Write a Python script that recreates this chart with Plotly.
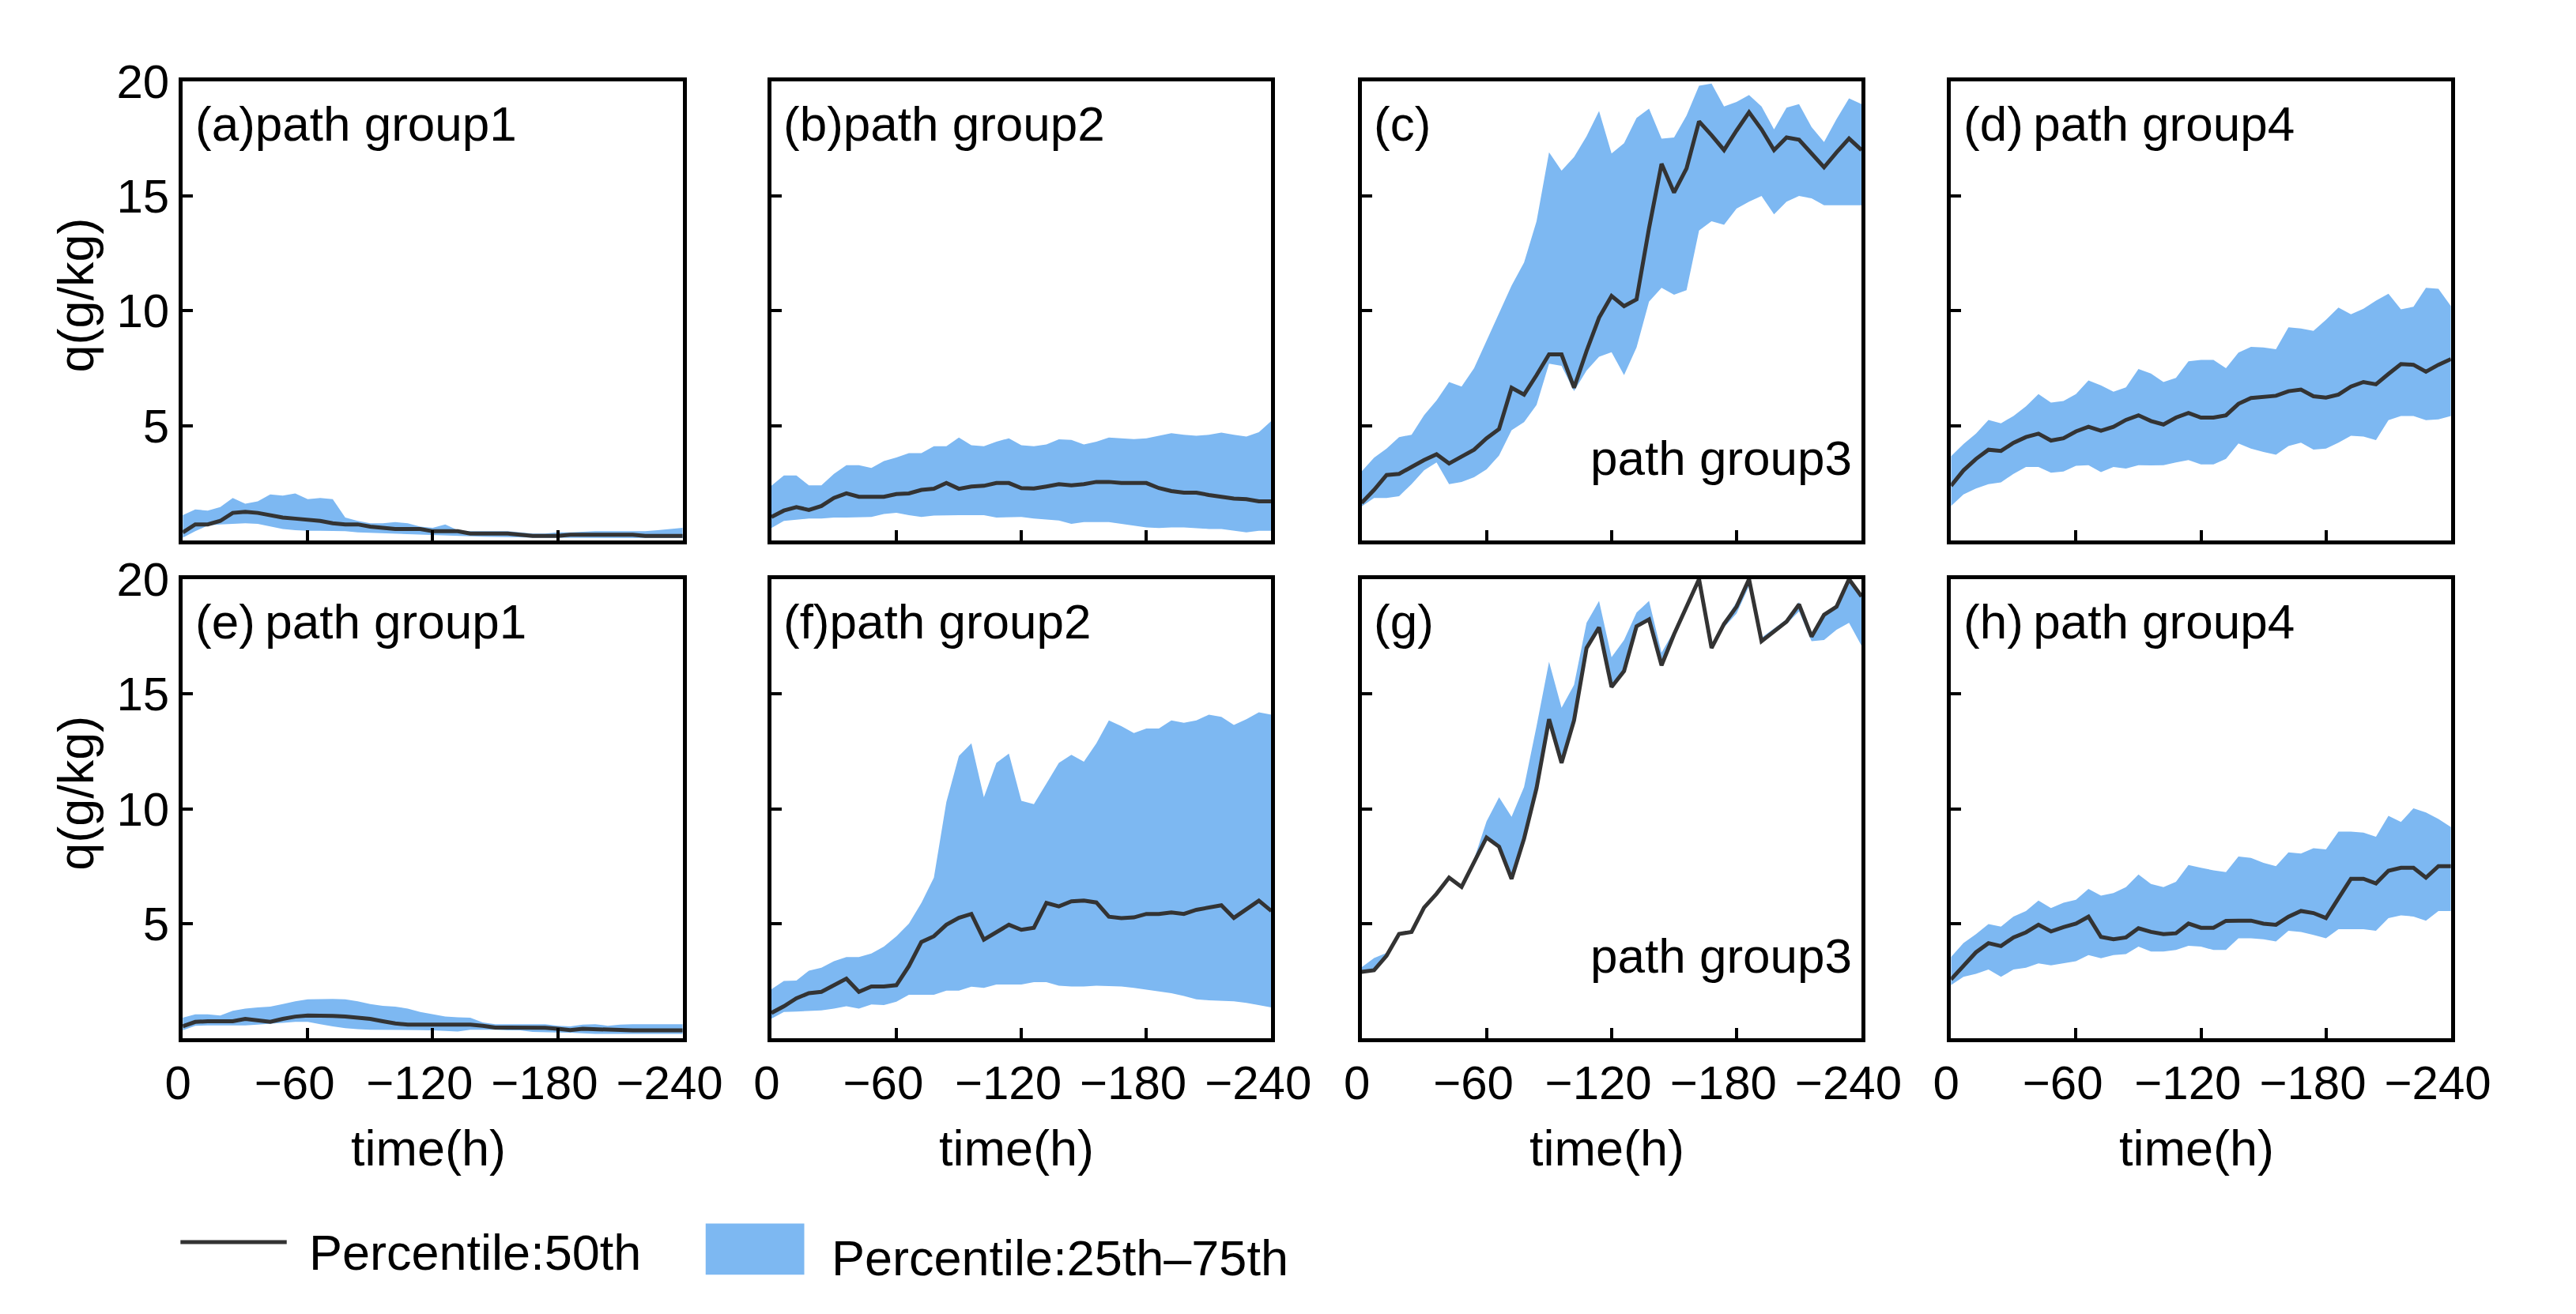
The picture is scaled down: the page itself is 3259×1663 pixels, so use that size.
import plotly.graph_objects as go

W, H = 3259, 1663
BLUE = "#7db8f2"
LINE = "#333333"
FONT = "Arial, Liberation Sans, sans-serif"

time_h = [0, -6, -12, -18, -24, -30, -36, -42, -48, -54, -60, -66, -72, -78, -84, -90, -96, -102, -108,
          -114, -120, -126, -132, -138, -144, -150, -156, -162, -168, -174, -180, -186, -192, -198, -204,
          -210, -216, -222, -228, -234, -240]
x_tickvals = [0, -60, -120, -180, -240]
x_ticktext = ["0\u2009", "\u221260\u2007", "\u2212120\u2007", "\u2212180\u2007", "\u2212240\u2007"]
y_tickvals = [5, 10, 15, 20]

# (a) path group1
a_p50 = [0.35, 0.7, 0.7, 0.85, 1.2, 1.25, 1.2, 1.1, 1.0, 0.95, 0.9, 0.85, 0.75, 0.7, 0.7, 0.6, 0.55, 0.5, 0.5, 0.5,
         0.4, 0.4, 0.4, 0.3, 0.3, 0.3, 0.3, 0.25, 0.2, 0.2, 0.2, 0.25, 0.25, 0.25, 0.25, 0.25, 0.25, 0.2, 0.2, 0.2, 0.2]
a_p75 = [1.1, 1.35, 1.3, 1.45, 1.85, 1.6, 1.7, 2.0, 1.95, 2.05, 1.8, 1.85, 1.8, 1.0, 0.85, 0.75, 0.75, 0.8, 0.75, 0.6,
         0.55, 0.7, 0.45, 0.4, 0.4, 0.4, 0.4, 0.35, 0.3, 0.3, 0.35, 0.35, 0.38, 0.4, 0.4, 0.4, 0.4, 0.4, 0.45, 0.5, 0.55]
a_p25 = [0.12, 0.4, 0.65, 0.7, 0.72, 0.75, 0.72, 0.6, 0.5, 0.45, 0.42, 0.42, 0.42, 0.4, 0.35, 0.33, 0.3, 0.28, 0.27,
         0.25, 0.22, 0.2, 0.2, 0.18, 0.16, 0.15, 0.15, 0.14, 0.12, 0.12, 0.12, 0.11, 0.1, 0.1, 0.1, 0.1, 0.1, 0.1, 0.1,
         0.1, 0.1]

# (b) path group2
b_p50 = [1.02, 1.3, 1.45, 1.33, 1.5, 1.85, 2.05, 1.9, 1.9, 1.9, 2.02, 2.05, 2.2, 2.25, 2.5, 2.25, 2.35, 2.38, 2.5,
         2.5, 2.28, 2.26, 2.35, 2.45, 2.4, 2.45, 2.55, 2.55, 2.5, 2.5, 2.5, 2.28, 2.15, 2.08, 2.08, 1.98, 1.9, 1.82,
         1.8, 1.7, 1.7]
b_p75 = [2.38, 2.83, 2.83, 2.4, 2.4, 2.9, 3.28, 3.28, 3.16, 3.46, 3.61, 3.8, 3.8, 4.1, 4.1, 4.48, 4.15, 4.1, 4.3,
         4.45, 4.15, 4.1, 4.18, 4.4, 4.38, 4.18, 4.3, 4.48, 4.45, 4.41, 4.45, 4.56, 4.67, 4.6, 4.56, 4.6, 4.7, 4.6,
         4.52, 4.71, 5.2]
b_p25 = [0.54, 0.85, 0.9, 0.95, 0.95, 1.0, 1.0, 1.0, 1.02, 1.15, 1.2, 1.1, 1.02, 1.08, 1.1, 1.1, 1.1, 1.1, 1.0, 1.0,
         1.02, 0.95, 0.9, 0.87, 0.72, 0.8, 0.8, 0.8, 0.72, 0.65, 0.57, 0.54, 0.57, 0.57, 0.54, 0.5, 0.5, 0.42, 0.35,
         0.42, 0.42]

# (c) path group3
c_p50 = [1.63, 2.2, 2.85, 2.9, 3.2, 3.5, 3.75, 3.35, 3.65, 3.95, 4.45, 4.85, 6.65, 6.35, 7.2, 8.1, 8.1, 6.65, 8.25,
         9.7, 10.65, 10.2, 10.5, 13.6, 16.4, 15.15, 16.2, 18.25, 17.65, 17.0, 17.85, 18.65, 17.9, 17.0, 17.55, 17.45,
         16.85, 16.25, 16.9, 17.5, 17.0]
c_p75 = [3.0, 3.6, 4.0, 4.5, 4.6, 5.45, 6.1, 6.9, 6.7, 7.5, 8.7, 9.9, 11.1, 12.1, 13.9, 16.9, 16.1, 16.7, 17.6, 18.7,
         16.85, 17.3, 18.4, 18.8, 17.5, 17.55, 18.5, 19.8, 19.9, 18.9, 19.1, 19.4, 18.9, 17.9, 18.85, 19.0, 18.0,
         17.35, 18.35, 19.25, 19.0]
c_p25 = [1.48, 1.85, 1.85, 1.93, 2.45, 3.05, 3.4, 2.45, 2.55, 2.75, 3.1, 3.7, 4.8, 5.15, 5.9, 7.7, 7.6, 6.5, 7.4, 8.0,
         8.2, 7.2, 8.4, 10.4, 11.0, 10.7, 10.9, 13.5, 13.9, 13.75, 14.45, 14.75, 15.0, 14.2, 14.75, 15.0, 14.9, 14.6,
         14.6, 14.6, 14.6]

# (d) path group4
d_p50 = [2.38, 3.05, 3.55, 3.95, 3.9, 4.25, 4.5, 4.65, 4.35, 4.45, 4.75, 4.95, 4.78, 4.95, 5.25, 5.45, 5.2, 5.05,
         5.35, 5.55, 5.35, 5.35, 5.45, 5.95, 6.2, 6.27, 6.3, 6.5, 6.57, 6.28, 6.22, 6.35, 6.7, 6.9, 6.8, 7.25, 7.68,
         7.65, 7.35, 7.65, 7.9]
d_p75 = [3.66, 4.2, 4.65, 5.25, 5.1, 5.42, 5.84, 6.37, 6.0, 6.07, 6.37, 6.97, 6.75, 6.48, 6.67, 7.47, 7.27, 6.9,
         7.08, 7.8, 7.86, 7.86, 7.5, 8.18, 8.43, 8.4, 8.33, 9.28, 9.23, 9.13, 9.61, 10.14, 9.85, 10.09, 10.44, 10.74,
         10.06, 10.18, 11.0, 10.96, 10.2]
d_p25 = [1.5, 2.0, 2.26, 2.45, 2.53, 2.9, 3.2, 3.2, 2.95, 3.0, 3.25, 3.28, 2.98, 3.2, 3.13, 3.28, 3.27, 3.28, 3.4,
         3.5, 3.31, 3.31, 3.55, 4.22, 4.0, 3.85, 3.73, 4.11, 4.26, 3.96, 4.0, 4.26, 4.56, 4.52, 4.37, 5.24, 5.42,
         5.42, 5.24, 5.27, 5.42]

# (e) path group1
e_p50 = [0.53, 0.72, 0.75, 0.75, 0.75, 0.85, 0.8, 0.72, 0.85, 0.95, 1.0, 1.0, 0.98, 0.95, 0.9, 0.85, 0.75, 0.65, 0.6,
         0.6, 0.6, 0.6, 0.6, 0.6, 0.55, 0.47, 0.47, 0.47, 0.47, 0.46, 0.42, 0.36, 0.42, 0.4, 0.36, 0.35, 0.35, 0.35,
         0.35, 0.35, 0.35]
e_p75 = [0.9, 1.05, 1.05, 1.0, 1.2, 1.3, 1.35, 1.38, 1.5, 1.62, 1.7, 1.72, 1.72, 1.7, 1.62, 1.5, 1.42, 1.38, 1.3,
         1.15, 1.05, 0.95, 0.92, 0.9, 0.7, 0.62, 0.62, 0.62, 0.62, 0.62, 0.55, 0.52, 0.6, 0.62, 0.55, 0.6, 0.62, 0.62,
         0.62, 0.62, 0.62]
e_p25 = [0.35, 0.55, 0.57, 0.57, 0.57, 0.57, 0.6, 0.65, 0.68, 0.72, 0.72, 0.62, 0.52, 0.45, 0.4, 0.38, 0.38, 0.38,
         0.38, 0.36, 0.35, 0.32, 0.3, 0.38, 0.38, 0.38, 0.35, 0.35, 0.28, 0.26, 0.26, 0.25, 0.22, 0.2, 0.2, 0.2, 0.2,
         0.2, 0.2, 0.2, 0.2]

# (f) path group2
f_p50 = [1.11, 1.4, 1.75, 1.97, 2.03, 2.32, 2.6, 2.03, 2.26, 2.26, 2.32, 3.15, 4.2, 4.45, 4.95, 5.25, 5.42, 4.3,
         4.64, 4.95, 4.73, 4.82, 5.9, 5.75, 5.97, 6.0, 5.92, 5.3, 5.24, 5.27, 5.42, 5.42, 5.49, 5.42, 5.6, 5.72, 5.8,
         5.25, 5.6, 6.0, 5.55]
f_p75 = [2.14, 2.5, 2.52, 2.95, 3.08, 3.36, 3.54, 3.54, 3.7, 4.0, 4.45, 5.0, 5.9, 7.0, 10.3, 12.3, 12.85, 10.5,
         12.0, 12.4, 10.35, 10.2, 11.1, 12.0, 12.35, 12.05, 12.85, 13.85, 13.6, 13.3, 13.5, 13.5, 13.85, 13.75, 13.85,
         14.1, 14.0, 13.65, 13.9, 14.2, 14.1]
f_p25 = [0.86, 1.15, 1.17, 1.2, 1.22, 1.3, 1.4, 1.3, 1.48, 1.45, 1.6, 1.9, 1.9, 1.9, 2.08, 2.08, 2.25, 2.2, 2.35,
         2.35, 2.35, 2.45, 2.45, 2.3, 2.26, 2.26, 2.3, 2.28, 2.26, 2.2, 2.12, 2.05, 1.97, 1.85, 1.7, 1.66, 1.64, 1.62,
         1.55, 1.45, 1.35]

# (g) path group3
g_p50 = [2.9, 2.97, 3.6, 4.55, 4.64, 5.7, 6.3, 7.0, 6.6, 7.7, 8.75, 8.35, 6.95, 8.7, 10.9, 13.9, 12.0, 13.85, 17.0,
         17.9, 15.3, 16.0, 17.95, 18.25, 16.25, 17.6, 18.8, 20.0, 17.0, 18.05, 18.8, 20.0, 17.3, 17.75, 18.15, 18.9,
         17.5, 18.45, 18.8, 20.0, 19.25]
g_p75 = [3.1, 3.5, 3.72, 4.6, 4.7, 5.75, 6.32, 7.05, 6.65, 7.8, 9.45, 10.5, 9.65, 10.95, 13.6, 16.4, 14.4, 15.4,
         18.1, 19.05, 16.6, 17.35, 18.55, 19.05, 16.8, 17.75, 18.85, 20.0, 17.1, 18.15, 19.0, 20.0, 17.45, 17.85,
         18.25, 19.0, 17.6, 18.5, 18.9, 20.0, 19.3]
g_p25 = [2.85, 2.95, 3.55, 4.5, 4.6, 5.65, 6.25, 6.95, 6.55, 7.65, 8.7, 8.3, 6.9, 8.65, 10.85, 13.85, 11.95, 13.8,
         16.95, 17.85, 15.25, 15.95, 17.9, 18.2, 16.2, 17.55, 18.7, 19.9, 16.95, 17.9, 18.5, 19.7, 17.25, 17.7, 18.05,
         18.6, 17.3, 17.35, 17.8, 18.1, 17.1]

# (h) path group4
h_p50 = [2.57, 3.15, 3.75, 4.15, 4.02, 4.4, 4.62, 4.95, 4.66, 4.85, 5.0, 5.3, 4.42, 4.32, 4.4, 4.8, 4.64, 4.54, 4.58,
         5.0, 4.82, 4.82, 5.12, 5.13, 5.13, 5.0, 4.95, 5.3, 5.55, 5.46, 5.24, 6.1, 6.95, 6.95, 6.75, 7.3, 7.43, 7.43,
         7.0, 7.5, 7.5]
h_p75 = [3.54, 4.15, 4.54, 4.98, 4.87, 5.31, 5.55, 6.0, 5.68, 5.91, 6.04, 6.51, 6.22, 6.33, 6.59, 7.14, 6.73, 6.59,
         6.82, 7.55, 7.43, 7.32, 7.24, 7.92, 7.86, 7.65, 7.5, 8.1, 8.05, 8.28, 8.23, 9.01, 9.01, 8.96, 8.78, 9.69,
         9.43, 10.02, 9.84, 9.56, 9.2]
h_p25 = [2.32, 2.68, 2.81, 3.0, 2.68, 3.0, 3.08, 3.27, 3.18, 3.27, 3.36, 3.63, 3.49, 3.63, 3.67, 4.0, 3.78, 3.78,
         3.85, 4.03, 4.0, 3.85, 3.85, 4.36, 4.36, 4.32, 4.22, 4.69, 4.64, 4.51, 4.36, 4.76, 4.76, 4.76, 4.69, 5.24,
         5.36, 5.31, 5.13, 5.55, 5.55]

panel_titles = ["(a)path group1", "(b)path group2", "(c)", "(d)\u2009path group4",
                "(e)\u2009path group1", "(f)path group2", "(g)", "(h)\u2009path group4"]
corner_titles = ["", "", "path group3", "", "", "", "path group3", ""]
series = [(a_p25, a_p50, a_p75), (b_p25, b_p50, b_p75), (c_p25, c_p50, c_p75), (d_p25, d_p50, d_p75),
          (e_p25, e_p50, e_p75), (f_p25, f_p50, f_p75), (g_p25, g_p50, g_p75), (h_p25, h_p50, h_p75)]

# layout geometry (pixels)
col_left = [207, 977, 1749, 2520]
pw = 654
row_tb = [(63, 656), (706, 1299)]


def px(x):
    return x / W


def py(y):
    return 1 - y / H


fig = go.Figure()
annotations = []
layout_axes = {}

for k, (lo, med, hi) in enumerate(series):
    r, c = divmod(k, 4)
    xa = "x" if k == 0 else f"x{k + 1}"
    ya = "y" if k == 0 else f"y{k + 1}"
    fig.add_trace(go.Scatter(x=time_h, y=lo, mode="lines", line=dict(width=0, color=BLUE),
                             xaxis=xa, yaxis=ya, showlegend=False, hoverinfo="skip"))
    fig.add_trace(go.Scatter(x=time_h, y=hi, mode="lines", line=dict(width=0, color=BLUE),
                             fill="tonexty", fillcolor=BLUE, xaxis=xa, yaxis=ya,
                             showlegend=False, hoverinfo="skip"))
    fig.add_trace(go.Scatter(x=time_h, y=med, mode="lines", line=dict(width=5, color=LINE),
                             xaxis=xa, yaxis=ya, showlegend=False))
    left = col_left[c]
    top, bot = row_tb[r]
    common = dict(showline=True, linewidth=5, linecolor="black", mirror=True, showgrid=False,
                  zeroline=False, ticks="inside", ticklen=13, tickwidth=4, tickcolor="black",
                  tickfont=dict(family=FONT, size=60, color="black"))
    layout_axes["xaxis" if k == 0 else f"xaxis{k + 1}"] = dict(
        domain=[px(left), px(left + pw)], anchor=ya, range=[0, -240], tickangle=0,
        tickvals=x_tickvals, ticktext=x_ticktext, showticklabels=(r == 1), **common)
    layout_axes["yaxis" if k == 0 else f"yaxis{k + 1}"] = dict(
        domain=[py(bot), py(top)], anchor=xa, range=[0, 20],
        tickvals=y_tickvals, showticklabels=(c == 0), **common)
    annotations.append(dict(x=px(left + 14), y=py(top + 55), xref="paper", yref="paper",
                            text=panel_titles[k], showarrow=False, xanchor="left", yanchor="middle",
                            font=dict(family=FONT, size=62, color="black")))
    if corner_titles[k]:
        annotations.append(dict(x=px(left + pw - 10), y=py(top + 486), xref="paper", yref="paper",
                                text=corner_titles[k], showarrow=False, xanchor="right", yanchor="middle",
                                font=dict(family=FONT, size=62, color="black")))
    if r == 1:
        annotations.append(dict(x=px(left + pw / 2 - 6), y=py(1441), xref="paper", yref="paper",
                                text="time(h)", showarrow=False, xanchor="center", yanchor="middle",
                                font=dict(family=FONT, size=63, color="black")))
    if c == 0:
        annotations.append(dict(x=px(67), y=py((top + bot) / 2 - 20), xref="paper", yref="paper",
                                text="q(g/kg)", showarrow=False, textangle=-90, xanchor="center",
                                yanchor="middle", font=dict(family=FONT, size=63, color="black")))

# legend (drawn manually)
annotations.append(dict(x=px(370), y=py(1575), xref="paper", yref="paper", text="Percentile:50th",
                        showarrow=False, xanchor="left", yanchor="middle",
                        font=dict(family=FONT, size=63, color="black")))
annotations.append(dict(x=px(1054), y=py(1582), xref="paper", yref="paper", text="Percentile:25th\u201375th",
                        showarrow=False, xanchor="left", yanchor="middle",
                        font=dict(family=FONT, size=63, color="black")))
shapes = [
    dict(type="line", xref="paper", yref="paper", x0=px(204), x1=px(343), y0=py(1562), y1=py(1562),
         line=dict(color=LINE, width=5)),
    dict(type="rect", xref="paper", yref="paper", x0=px(891), x1=px(1020), y0=py(1604), y1=py(1538),
         fillcolor=BLUE, line=dict(width=0)),
]

fig.update_layout(width=W, height=H, margin=dict(l=0, r=0, t=0, b=0), paper_bgcolor="white",
                  plot_bgcolor="white", showlegend=False, annotations=annotations, shapes=shapes,
                  **layout_axes)

fig.write_html("out.html")
